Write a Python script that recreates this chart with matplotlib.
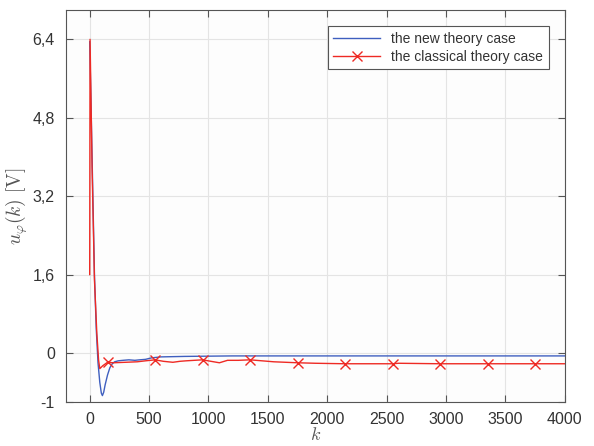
import matplotlib.pyplot as plt
from matplotlib.ticker import FixedLocator, FixedFormatter

plt.rcParams['font.family'] = ['Liberation Sans', 'DejaVu Sans']
plt.rcParams['mathtext.fontset'] = 'cm'

# new theory case (blue)
k_new = [0, 10, 25, 40, 55, 70, 85, 98, 107, 118, 130, 150, 170, 190, 210,
         240, 280, 330, 380, 420, 470, 520, 600, 800, 1200, 2000, 3000, 4000]
u_new = [6.35, 5.2, 3.4, 1.6, 0.5, -0.2, -0.6, -0.82, -0.87, -0.8, -0.65, -0.45,
         -0.3, -0.22, -0.18, -0.16, -0.15, -0.14, -0.15, -0.14, -0.13, -0.1,
         -0.08, -0.07, -0.06, -0.06, -0.06, -0.06]

# classical theory case (red)
k_cls = [0, 3, 20, 40, 60, 75, 85, 110, 150, 200, 300, 400, 470, 550, 620, 700,
         760, 812, 880, 950, 1020, 1092, 1160, 1250, 1350, 1450, 1550, 1650,
         1750, 1900, 2150, 2550, 2600, 2950, 3350, 3750, 4000]
u_cls = [1.6, 6.4, 3.8, 1.5, 0.4, -0.15, -0.32, -0.26, -0.19, -0.2, -0.19, -0.18,
         -0.16, -0.14, -0.17, -0.19, -0.17, -0.16, -0.15, -0.14, -0.17, -0.2,
         -0.15, -0.15, -0.14, -0.16, -0.18, -0.19, -0.2, -0.21, -0.22, -0.22,
         -0.21, -0.22, -0.22, -0.22, -0.22]
marker_k = [150, 550, 950, 1350, 1750, 2150, 2550, 2950, 3350, 3750]

yticks = [-1, 0, 1.6, 3.2, 4.8, 6.4]
ytick_labels = ['-1', '0', '1,6', '3,2', '4,8', '6,4']
xticks = [0, 500, 1000, 1500, 2000, 2500, 3000, 3500, 4000]

fig = plt.figure(figsize=(5.94, 4.46), dpi=100)
ax = fig.add_axes([0.111, 0.0987, 0.840, 0.879])
ax.set_facecolor('#fdfdfd')

marks = [k_cls.index(m) for m in marker_k]
ax.plot(k_new, u_new, color='#3f5fbf', lw=1.0, label='the new theory case')
ax.plot(k_cls, u_cls, color='#ee2a24', lw=1.0, marker='x', markersize=7,
        markeredgewidth=1.0, markevery=marks, label='the classical theory case')

ax.set_xlim(-200, 4000)
ax.set_ylim(-1, 7)
ax.xaxis.set_major_locator(FixedLocator(xticks))
ax.yaxis.set_major_locator(FixedLocator(yticks))
ax.yaxis.set_major_formatter(FixedFormatter(ytick_labels))

ax.grid(True, color='#e4e4e4', lw=0.8)
ax.set_axisbelow(True)
ax.tick_params(direction='in', top=True, right=True, length=5, width=0.8,
               colors='#555555', labelcolor='#333333', labelsize=11.5)
ax.tick_params(axis='x', pad=7)
ax.tick_params(axis='y', pad=8)
for s in ax.spines.values():
    s.set_color('#555555')
    s.set_linewidth(0.8)

ax.set_xlabel('$k$', fontsize=13, color='#555555', labelpad=0)
ax.set_ylabel(r'$u_\varphi(k)\ [\mathrm{V}]$', fontsize=14, color='#555555', labelpad=2)

leg = ax.legend(loc='upper right', bbox_to_anchor=(0.968, 0.959), fontsize=10,
                handlelength=3.4, fancybox=False, framealpha=1,
                edgecolor='#555555', borderpad=0.4, labelspacing=0.3,
                borderaxespad=0)
leg.get_frame().set_linewidth(0.8)
for t in leg.get_texts():
    t.set_color('#333333')

fig.savefig('out.png', dpi=100)
